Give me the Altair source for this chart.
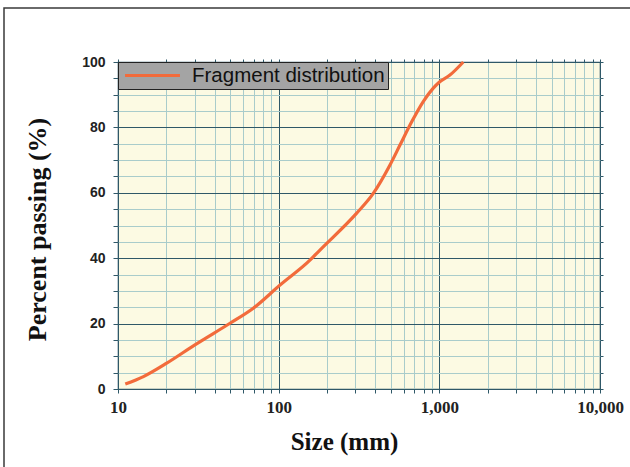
import altair as alt
import pandas as pd

# Data
sizes = [11.1, 14.4, 20.1, 30.1, 49.8, 69.5, 102, 156.6, 180.7, 305, 388, 493, 569, 673, 794, 917, 998, 1164, 1409]
passing = [1.5, 3.8, 7.9, 13.5, 20.1, 24.7, 31.8, 39.4, 42.5, 53.7, 59.8, 68.5, 74.6, 81.7, 87.9, 92.0, 93.8, 96.0, 100.0]
series_name = "Fragment distribution"

x_ticks = [10, 20, 30, 40, 50, 60, 70, 80, 90,
           100, 200, 300, 400, 500, 600, 700, 800, 900,
           1000, 2000, 3000, 4000, 5000, 6000, 7000, 8000, 9000, 10000]
x_labels = [10, 100, 1000, 10000]
y_ticks = [0, 5, 10, 15, 20, 25, 30, 35, 40, 45, 50, 55, 60, 65, 70, 75, 80, 85, 90, 95, 100]

df = pd.DataFrame({"size": sizes, "passing": passing, "series": [series_name] * len(sizes)})

DARK = "#2f5868"
LIGHT = "#a9cccb"
ORANGE = "#f26b3b"

x_scale = alt.Scale(type="log", domain=[10, 10000], nice=False)
y_scale = alt.Scale(domain=[0, 100], nice=False, zero=False)

x_axis = alt.Axis(
    orient="bottom", values=x_ticks,
    labelExpr="indexof([10,100,1000,10000], datum.value) >= 0 ? format(datum.value, ',') : ''",
    grid=True,
    gridColor={"condition": {"test": "indexof([10,100,1000,10000], datum.value) >= 0", "value": DARK}, "value": LIGHT},
    gridWidth=1, gridOpacity=1,
    domain=False, ticks=True, tickColor=DARK, tickSize=4,
    labelFont="Liberation Serif", labelFontWeight="bold", labelFontSize=17, labelColor="#222",
    labelPadding=6, labelFlush=False, labelOverlap=False,
    title="Size (mm)", titleFont="Liberation Serif", titleFontWeight="bold", titleFontSize=25,
    titleColor="#111", titleX=226, titleY=52, titleAlign="center", titleBaseline="middle",
)
y_axis = alt.Axis(
    orient="left", values=y_ticks,
    labelExpr="datum.value % 20 == 0 ? datum.value : ''",
    grid=True,
    gridColor={"condition": {"test": "datum.value % 20 == 0", "value": DARK}, "value": LIGHT},
    gridWidth=1, gridOpacity=1,
    domain=False, ticks=True, tickColor=DARK, tickSize=5,
    labelFont="Liberation Sans", labelFontWeight="bold", labelFontSize=14, labelColor="#222",
    labelPadding=8, labelFlush=False, labelOverlap=False,
    title="Percent passing (%)", titleFont="Liberation Serif", titleFontWeight="bold", titleFontSize=26,
    titleColor="#111", titleX=-81, titleY=167, titleAngle=-90, titleAlign="center", titleBaseline="middle",
)

line = alt.Chart(df).mark_line(strokeWidth=3.2, interpolate="monotone").encode(
    x=alt.X("size:Q", scale=x_scale, axis=x_axis),
    y=alt.Y("passing:Q", scale=y_scale, axis=y_axis),
    color=alt.Color(
        "series:N",
        scale=alt.Scale(range=[ORANGE]),
        legend=alt.Legend(
            title=None, orient="none", legendX=0, legendY=0,
            fillColor="#a4a4a4", strokeColor="#222", padding=3, cornerRadius=0,
            symbolType="M-3.05,0H3.05", symbolSize=324, symbolStrokeWidth=3, symbolOffset=21,
            labelFont="Liberation Sans", labelFontSize=20.5, labelColor="#111",
            labelOffset=29, labelLimit=400,
        ),
    ),
)

ghost = alt.Chart(df).mark_line(opacity=0).encode(
    x=alt.X("size:Q", scale=x_scale, axis=alt.Axis(orient="top", values=x_ticks, labels=False, grid=False,
                                                    domain=False, tickColor=DARK, tickSize=3, title=None)),
    y=alt.Y("passing:Q", scale=y_scale, axis=alt.Axis(orient="right", values=y_ticks, labels=False, grid=False,
                                                       domain=False, tickColor=DARK, tickSize=3, title=None)),
)

frame = alt.Chart(pd.DataFrame({"a": [0]})).mark_rect(fillOpacity=0, stroke="#3a3a3a", strokeWidth=1.5).encode(
    x=alt.value(-114), x2=alt.value(620), y=alt.value(-54), y2=alt.value(520)
)

chart = alt.layer(frame, line, ghost).resolve_axis(x="independent", y="independent").properties(
    width=482, height=327,
    autosize=alt.AutoSizeParams(type="none"),
    padding={"left": 118, "top": 62, "right": 30, "bottom": 78},
    background="white",
).configure_view(fill="#fcfae3", stroke=DARK, strokeWidth=1.2)

chart.save("out.html", embed_options={"renderer": "svg", "actions": False})
